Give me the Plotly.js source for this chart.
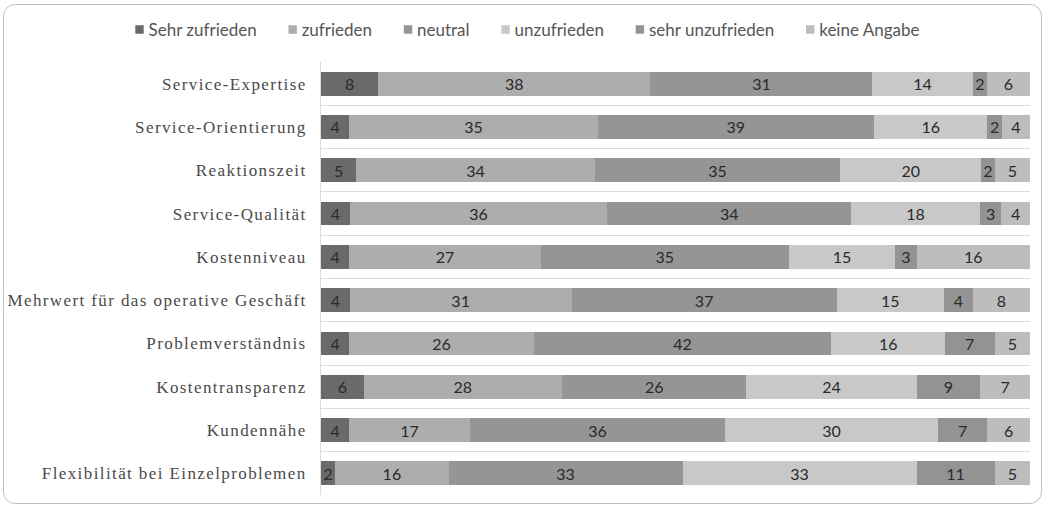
<!DOCTYPE html>
<html>
<head>
<meta charset="utf-8">
<script src="https://cdn.plot.ly/plotly-3.0.1.min.js"></script>
<style>
  html, body { margin: 0; padding: 0; background: #ffffff; }
  #wrap { position: relative; width: 1047px; height: 507px; }
  #chart { position: absolute; left: 0; top: 0; width: 1047px; height: 507px; }
  #frame {
    position: absolute; left: 3px; top: 4px; width: 1039px; height: 500px;
    border: 1px solid #bfbfbf; border-radius: 12px; box-sizing: border-box;
    pointer-events: none;
  }
  /* loosely tracked serif category labels */
  .yaxislayer-above text { letter-spacing: 1.4px; }
  /* small legend swatches sitting close to their labels */
  .legend .legendpoints path { transform: translate(24px, 0px) scale(0.7); }
  .legend .legendtext { transform: translateX(-7px); }
</style>
</head>
<body>
<div id="wrap">
  <div id="chart"></div>
  <div id="frame"></div>
</div>
<script>
// Survey topics, listed top to bottom
const categories = [
  "Service-Expertise",
  "Service-Orientierung",
  "Reaktionszeit",
  "Service-Qualität",
  "Kostenniveau",
  "Mehrwert für das operative Geschäft",
  "Problemverständnis",
  "Kostentransparenz",
  "Kundennähe",
  "Flexibilität bei Einzelproblemen"
];

// Answer shares in percent per topic
const sehrZufrieden   = [8, 4, 5, 4, 4, 4, 4, 6, 4, 2];
const zufrieden       = [38, 35, 34, 36, 27, 31, 26, 28, 17, 16];
const neutral         = [31, 39, 35, 34, 35, 37, 42, 26, 36, 33];
const unzufrieden     = [14, 16, 20, 18, 15, 15, 16, 24, 30, 33];
const sehrUnzufrieden = [2, 2, 2, 3, 3, 4, 7, 9, 7, 11];
const keineAngabe     = [6, 4, 5, 4, 16, 8, 5, 7, 6, 5];

const seriesNames = ["Sehr zufrieden", "zufrieden", "neutral", "unzufrieden", "sehr unzufrieden", "keine Angabe"];
const seriesValues = [sehrZufrieden, zufrieden, neutral, unzufrieden, sehrUnzufrieden, keineAngabe];
const seriesColors = ["#6a6a6a", "#adadad", "#959595", "#c8c8c8", "#939393", "#bdbdbd"];

const traces = seriesNames.map((name, i) => ({
  type: "bar",
  orientation: "h",
  name: name,
  y: categories,
  x: seriesValues[i],
  text: seriesValues[i].map(String),
  texttemplate: "%{text}",
  textposition: "inside",
  insidetextanchor: "middle",
  constraintext: "none",
  textangle: 0,
  textfont: { family: "Lato, 'Open Sans', sans-serif", size: 16, color: "#2a2a2a" },
  marker: { color: seriesColors[i], line: { width: 0 } },
  width: 0.55,
  hoverinfo: "name+x"
}));

// The bar area starts at x = 321 px; the labels sit in the space to its left.
const plotLeft = 321, plotRight = 1030, W = 1047;

const layout = {
  width: W,
  height: 507,
  barmode: "stack",
  barnorm: "percent",
  paper_bgcolor: "rgba(0,0,0,0)",
  plot_bgcolor: "rgba(0,0,0,0)",
  margin: { l: 0, r: W - plotRight, t: 62, b: 12, pad: 0 },
  showlegend: true,
  legend: {
    orientation: "h",
    xref: "container", yref: "container",
    x: 0.5, xanchor: "center",
    y: 1 - 30 / 507, yanchor: "middle",
    font: { family: "Lato, 'Open Sans', sans-serif", size: 17, color: "#555555" },
    itemwidth: 30,
    traceorder: "normal",
    bgcolor: "rgba(0,0,0,0)"
  },
  xaxis: {
    domain: [plotLeft / plotRight, 1],
    range: [0, 100],
    showgrid: false,
    zeroline: false,
    showticklabels: false,
    ticks: "",
    fixedrange: true
  },
  yaxis: {
    type: "category",
    autorange: "reversed",
    tickson: "boundaries",
    showgrid: true,
    gridcolor: "#dcdcdc",
    gridwidth: 1,
    showline: true,
    linecolor: "#dcdcdc",
    linewidth: 1,
    ticks: "",
    ticklabelstandoff: 10,
    automargin: false,
    tickfont: { family: "'Liberation Serif', 'DejaVu Serif', serif", size: 17, color: "#4a4a4a" },
    fixedrange: true
  }
};

Plotly.newPlot("chart", traces, layout, { displayModeBar: false, staticPlot: true });
</script>
</body>
</html>
